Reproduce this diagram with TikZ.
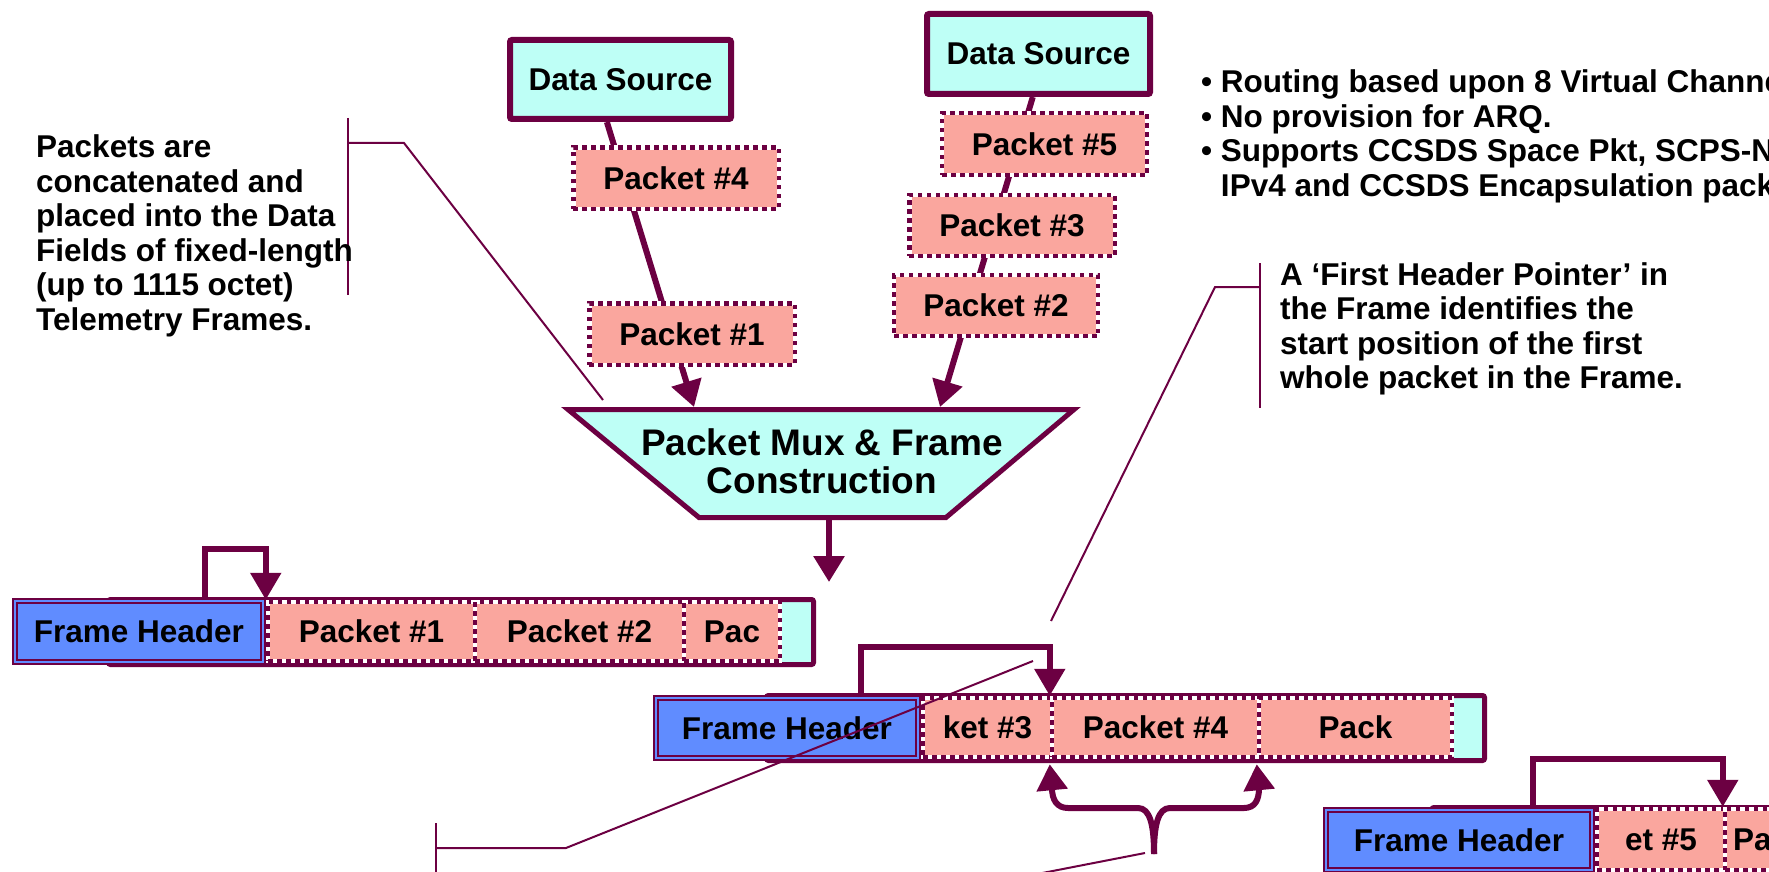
\documentclass[tikz,border=0pt]{standalone}
\usepackage{fontspec}
\setmainfont{Liberation Sans}
\usetikzlibrary{arrows.meta,calc,backgrounds}
\definecolor{pur}{RGB}{108,0,66}
\definecolor{cya}{RGB}{190,255,246}
\definecolor{sal}{RGB}{250,166,158}
\definecolor{fhb}{RGB}{96,140,255}
\newcommand\tfbody{\fontsize{31.5}{34.5}\selectfont\bfseries}
\newcommand\tfbig{\fontsize{37}{38}\selectfont\bfseries}
\tikzset{
  dsbox/.style={draw=pur, line width=6pt, fill=cya, rounded corners=2pt, minimum width=221pt, minimum height=79pt, inner sep=0pt, font=\tfbody},
  pktbox/.style={fill=sal, draw=white, line width=4.5pt, inner sep=0pt, font=\tfbody, postaction={draw=pur, line width=4.5pt, dash pattern=on 4.5pt off 4.5pt}},
  fhbox/.style={fill=fhb, draw=pur, double=fhb, line width=1.6pt, double distance=2.4pt, inner sep=0pt, font=\tfbody},
  frameout/.style={fill=cya, draw=pur, line width=5pt, rounded corners=2pt, inner sep=0pt},
  conn/.style={draw=pur, line width=6pt},
  tipped/.style={-{Triangle[width=30pt,length=26pt]}},
  hookline/.style={draw=pur, line width=5.5pt, -{Triangle[width=30pt,length=27pt]}},
  callout/.style={draw=pur, line width=2pt},
  txt/.style={font=\tfbody, inner sep=0pt, align=left, anchor=base west}
}
\begin{document}
\begin{tikzpicture}[x=1pt,y=-1pt]
\useasboundingbox (0,0) rectangle (1769,872);
\clip (0,0) rectangle (1769,872);

% Mux
\draw[fill=cya, draw=pur, line width=5pt, line join=miter] (568,409.5) -- (1074,409.5) -- (946,517.5) -- (699,517.5) -- cycle;
\node[font=\tfbig, align=center, inner sep=0pt] (mux) at (822,461) {Packet Mux \& Frame\\Construction};
\coordinate (muxL) at (694,407);
\coordinate (muxR) at (940,407);

% Data sources and packets
\node[dsbox] (ds1) at (620.5,79.5) {Data Source};
\node[dsbox, minimum width=223pt, minimum height=80pt] (ds2) at (1038.5,54) {Data Source};
\node[pktbox, minimum width=205.5pt, minimum height=61.5pt] (p4) at (676,178) {Packet \#4};
\node[pktbox, minimum width=205.5pt, minimum height=61.5pt] (p1) at (692,334) {Packet \#1};
\node[pktbox, minimum width=205pt, minimum height=61.5pt] (p5) at (1044.5,144) {Packet \#5};
\node[pktbox, minimum width=205.5pt, minimum height=61pt] (p3) at (1012,225.5) {Packet \#3};
\node[pktbox, minimum width=204pt, minimum height=61pt] (p2) at (996,305.5) {Packet \#2};

\begin{scope}[on background layer]
\draw[conn, tipped] ($(ds1.south west)!0.44!(ds1.south east)$) -- (muxL);
\draw[conn, tipped] ($(ds2.south west)!0.475!(ds2.south east)$) -- (muxR);
\end{scope}

% Frame 1
\node[frameout, minimum width=705pt, minimum height=65pt] (f1) at (461,632) {};
\node[pktbox, minimum width=207pt, minimum height=59pt] (c11) at (371.5,631.5) {Packet \#1};
\node[pktbox, minimum width=209pt, minimum height=59pt] (c12) at (579.5,631.5) {Packet \#2};
\node[pktbox, minimum width=96pt, minimum height=59pt] (c13) at (732,631.5) {Pac};
\node[fhbox, minimum width=248.4pt, minimum height=61.4pt] (fh1) at (139,631.5) {Frame Header};

% Frame 2
\node[frameout, minimum width=718pt, minimum height=65pt] (f2) at (1125.5,728) {};
\node[pktbox, minimum width=129pt, minimum height=59pt] (c21) at (987.5,727.5) {ket \#3};
\node[pktbox, minimum width=207pt, minimum height=59pt] (c22) at (1155.5,727.5) {Packet \#4};
\node[pktbox, minimum width=193pt, minimum height=59pt] (c23) at (1355.5,727.5) {Pack};
\node[fhbox, minimum width=262.4pt, minimum height=60.4pt] (fh2) at (787,728) {Frame Header};

% Frame 3
\node[frameout, minimum width=470pt, minimum height=65pt] (f3) at (1667,840) {};
\node[pktbox, minimum width=128pt, minimum height=61pt] (c31) at (1661,839.5) {et \#5};
\node[pktbox, text width=159pt, inner xsep=8pt, align=left, minimum height=61pt] (c32) at (1812.5,839.5) {Pa};
\node[fhbox, minimum width=266.4pt, minimum height=60.4pt] (fh3) at (1459,840) {Frame Header};

% First header pointer hooks
\draw[hookline] ($(fh1.north west)!(205,0)!(fh1.north east)$) -- ++(0,-51) -| (c11.north west);
\draw[hookline] ($(fh2.north west)!(861,0)!(fh2.north east)$) -- ++(0,-50) -| (c22.north west);
\draw[hookline] ($(fh3.north west)!(1533,0)!(fh3.north east)$) -- ++(0,-50) -| (c32.north west);

% Mux output
\coordinate (mdA) at (829,520);
\coordinate (mdB) at (829,582);
\draw[conn, tipped] (mdA) -- (mdB);

% Brace arrows
\coordinate (brace) at (1154,854);
\draw[conn, tipped] (brace) .. controls (1154,825) and (1150,808) .. (1138,808) -- (1068,808) .. controls (1057,808) and (1052,800) .. (1052,788) -- ($(c22.south west)+(0,5)$);
\draw[conn, tipped] (brace) .. controls (1154,825) and (1158,808) .. (1170,808) -- (1244,808) .. controls (1255,808) and (1259,800) .. (1259,788) -- ($(c23.south west)+(0,5)$);

% Callout lines
\coordinate (lc1) at (347.5,118); \coordinate (lc2) at (347.5,295);
\coordinate (lc3) at (347.5,143); \coordinate (lc4) at (404,143); \coordinate (lc5) at (603,400);
\draw[callout] (lc1) -- (lc2);
\draw[callout] (lc3) -- (lc4) -- (lc5);
\coordinate (rc1) at (1260,263); \coordinate (rc2) at (1260,408);
\coordinate (rc3) at (1260,287); \coordinate (rc4) at (1215,287); \coordinate (rc5) at (1051,621);
\draw[callout] (rc1) -- (rc2);
\draw[callout] (rc3) -- (rc4) -- (rc5);
\coordinate (bc1) at (436,823); \coordinate (bc2) at (436,880);
\coordinate (bc3) at (436,848); \coordinate (bc4) at (566,848); \coordinate (bc5) at (1033,661);
\draw[callout] (bc1) -- (bc2);
\draw[callout] (bc3) -- (bc4) -- (bc5);
\coordinate (br1) at (1145,853); \coordinate (br2) at (950,891);
\draw[callout] (br1) -- (br2);

% Texts (base anchor = baseline of the last line)
\node[txt] (lpara) at (36,330) {Packets are\\concatenated and\\placed into the Data\\Fields of fixed-length\\(up to 1115 octet)\\Telemetry Frames.};
\node[txt] (rpara) at (1280,388.5) {A ‘First Header Pointer’ in\\the Frame identifies the\\start position of the first\\whole packet in the Frame.};
\node[txt] (bul) at (1201,196) {• Routing based upon 8 Virtual Channels\\• No provision for ARQ.\\• Supports CCSDS Space Pkt, SCPS-NP,\\\phantom{• }IPv4 and CCSDS Encapsulation packets};
\end{tikzpicture}
\end{document}
